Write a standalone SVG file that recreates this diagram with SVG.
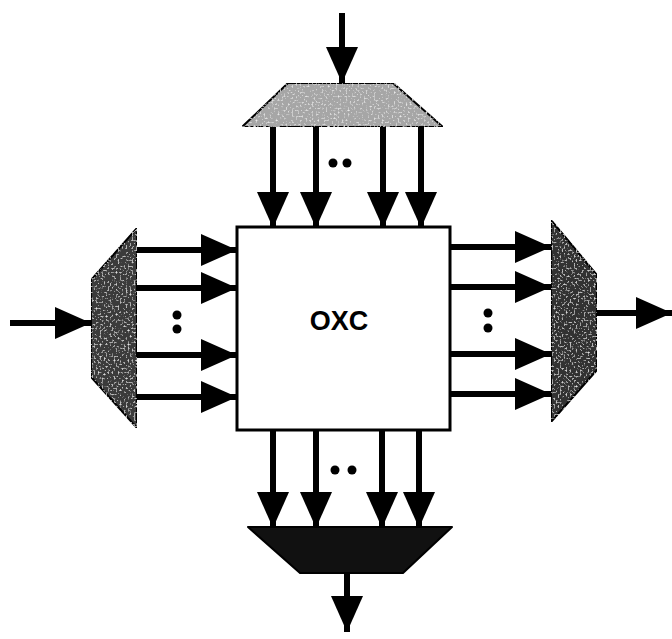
<svg xmlns="http://www.w3.org/2000/svg" width="672" height="639" viewBox="0 0 672 639">
<style>
.conn line{stroke:#000;stroke-width:6;marker-end:url(#ah)}
.mux{stroke:#000;stroke-width:2;stroke-linejoin:round}
.dot{fill:#000}
.lbl{font-family:"Liberation Sans",Arial,sans-serif;font-weight:bold;font-size:27px;fill:#000}
</style>
<defs>
<marker id="ah" viewBox="0 0 36 32" markerWidth="36" markerHeight="32" refX="36" refY="16" orient="auto" markerUnits="userSpaceOnUse">
<path d="M0,0 L36,16 L0,32 Z" fill="#000"/>
</marker>
<filter id="spk" x="0" y="0" width="1" height="1">
<feTurbulence type="fractalNoise" baseFrequency="0.5" numOctaves="2" seed="3" result="n"/>
<feColorMatrix in="n" type="matrix" values="0 0 0 0 1  0 0 0 0 1  0 0 0 0 1  2.5 0 0 0 -1.35" result="w"/>
<feComposite in="w" in2="SourceGraphic" operator="in" result="wc"/>
<feMerge><feMergeNode in="SourceGraphic"/><feMergeNode in="wc"/></feMerge>
</filter>
</defs>
<g id="oxc">
<rect x="237" y="227" width="213" height="203" fill="#fff" stroke="#000" stroke-width="3"/>
<text class="lbl" x="339" y="330" text-anchor="middle">OXC</text>
</g>
<g id="demux-top">
<polygon class="mux" points="288,83 393,83 443,127 242,127" fill="#a6a6a6" filter="url(#spk)"/>
</g>
<g id="demux-left">
<polygon class="mux" points="137,228 137,428 91,377 91,280" fill="#3a3a3a" filter="url(#spk)"/>
</g>
<g id="mux-right">
<polygon class="mux" points="551,220 597,275 597,370 551,422" fill="#303030" filter="url(#spk)"/>
</g>
<g id="mux-bottom">
<polygon class="mux" points="248,527 452,527 403,573 300,573" fill="#111"/>
</g>
<g id="connectors" class="conn">
<line x1="342" y1="13" x2="342" y2="83"/>
<line x1="273" y1="127" x2="273" y2="228"/>
<line x1="316" y1="127" x2="316" y2="228"/>
<line x1="383" y1="127" x2="383" y2="228"/>
<line x1="421" y1="127" x2="421" y2="228"/>
<line x1="10" y1="323" x2="91" y2="323"/>
<line x1="137" y1="250" x2="237" y2="250"/>
<line x1="137" y1="288" x2="237" y2="288"/>
<line x1="137" y1="355" x2="237" y2="355"/>
<line x1="137" y1="397" x2="237" y2="397"/>
<line x1="450" y1="247" x2="551" y2="247"/>
<line x1="450" y1="287" x2="551" y2="287"/>
<line x1="450" y1="354" x2="551" y2="354"/>
<line x1="450" y1="394" x2="551" y2="394"/>
<line x1="597" y1="313" x2="672" y2="313"/>
<line x1="273" y1="430" x2="273" y2="528"/>
<line x1="316" y1="430" x2="316" y2="528"/>
<line x1="382" y1="430" x2="382" y2="528"/>
<line x1="419" y1="430" x2="419" y2="528"/>
<line x1="347" y1="573" x2="347" y2="632"/>
</g>
<g id="ellipses">
<circle class="dot" cx="333" cy="163" r="4.5"/>
<circle class="dot" cx="347" cy="163" r="4.5"/>
<circle class="dot" cx="177" cy="315" r="4.5"/>
<circle class="dot" cx="177" cy="329" r="4.5"/>
<circle class="dot" cx="488" cy="313" r="4.5"/>
<circle class="dot" cx="488" cy="328" r="4.5"/>
<circle class="dot" cx="335" cy="470" r="4.5"/>
<circle class="dot" cx="352" cy="470" r="4.5"/>
</g>
</svg>
